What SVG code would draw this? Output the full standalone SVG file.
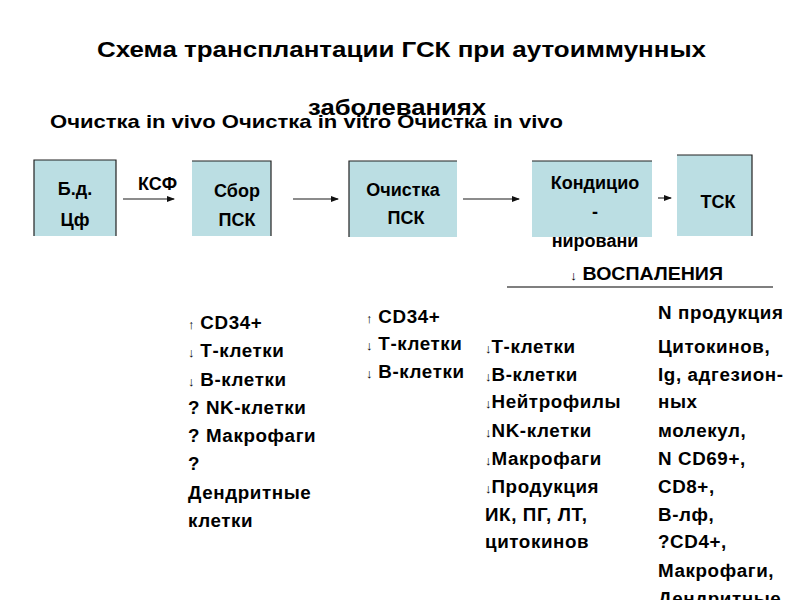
<svg xmlns="http://www.w3.org/2000/svg" width="800" height="600" viewBox="0 0 800 600">
<defs>
<marker id="ah" markerWidth="8" markerHeight="6" refX="7" refY="3" orient="auto" markerUnits="userSpaceOnUse">
<path d="M0,0 L8,3 L0,6 Z" fill="#111"/>
</marker>
<style>
text{font-family:"Liberation Sans",Arial,sans-serif;font-weight:bold;fill:#000}
.t{font-size:22px}
.sub{font-size:19px}
.bx{font-size:18px;text-anchor:middle}
.ls{font-size:18.8px;letter-spacing:0.6px}
.ar{font-weight:normal;font-size:13px;letter-spacing:0}
.box{fill:#bbdee3}
.bd{stroke:#222;stroke-width:1.2;fill:none}
.con{stroke:#666;stroke-width:1.6;fill:none;marker-end:url(#ah)}
</style>
</defs>
<rect width="800" height="600" fill="#fff"/>

<g id="title">
<text class="t" x="97" y="57" textLength="609" lengthAdjust="spacingAndGlyphs">Схема трансплантации ГСК при аутоиммунных</text>
<text class="t" x="308" y="115" textLength="178" lengthAdjust="spacingAndGlyphs">заболеваниях</text>
<text class="sub" x="50" y="128" textLength="513" lengthAdjust="spacingAndGlyphs">Очистка in vivo Очистка in vitro Очистка in vivo</text>
</g>

<g id="connectors">
<line class="con" x1="123" y1="199" x2="174" y2="199"/>
<line class="con" x1="293" y1="199" x2="338" y2="199"/>
<line class="con" x1="463" y1="199" x2="519" y2="199"/>
<line class="con" x1="658" y1="198" x2="671" y2="198"/>
<text x="138" y="190" style="font-size:18px">КСФ</text>
</g>

<g id="node-bd">
<rect class="box" x="34" y="160" width="82" height="76"/>
<path class="bd" d="M34,236 V160 H116 V236"/>
<text class="bx" x="75" y="195">Б.д.</text>
<text class="bx" x="75" y="226">Цф</text>
</g>

<g id="node-sbor">
<rect class="box" x="192" y="161" width="79" height="75"/>
<path class="bd" d="M192,161 H271 V236"/>
<text class="bx" x="237" y="197">Сбор</text>
<text class="bx" x="237" y="226">ПСК</text>
</g>

<g id="node-ochistka">
<rect class="box" x="349" y="161" width="108" height="76"/>
<path class="bd" d="M349,237 V161 H457"/>
<text class="bx" x="403" y="196">Очистка</text>
<text class="bx" x="406" y="224">ПСК</text>
</g>

<g id="node-kond">
<rect class="box" x="532" y="161" width="120" height="76"/>
<path class="bd" d="M532,161 H652"/>
<text class="bx" x="595" y="189">Кондицио</text>
<text class="bx" x="595" y="218">-</text>
<text class="bx" x="595" y="247">нировани</text>
</g>

<g id="node-tsk">
<rect class="box" x="677" y="155" width="75" height="81"/>
<path class="bd" d="M677,155 H752 V236"/>
<text class="bx" x="718" y="208">ТСК</text>
</g>

<g id="inflammation">
<text x="570" y="280" style="font-size:18px" textLength="153" lengthAdjust="spacingAndGlyphs"><tspan class="ar">↓</tspan> ВОСПАЛЕНИЯ</text>
<line x1="507" y1="287" x2="773" y2="287" stroke="#000" stroke-width="1.2"/>
</g>

<g id="list1">
<text class="ls" x="188" y="329"><tspan class="ar">↑</tspan> CD34+</text>
<text class="ls" x="188" y="357"><tspan class="ar">↓</tspan> Т-клетки</text>
<text class="ls" x="188" y="386"><tspan class="ar">↓</tspan> В-клетки</text>
<text class="ls" x="188" y="414">? NK-клетки</text>
<text class="ls" x="188" y="442">? Макрофаги</text>
<text class="ls" x="188" y="470">?</text>
<text class="ls" x="188" y="499">Дендритные</text>
<text class="ls" x="188" y="527">клетки</text>
</g>

<g id="list2">
<text class="ls" x="366" y="323"><tspan class="ar">↑</tspan> CD34+</text>
<text class="ls" x="366" y="350"><tspan class="ar">↓</tspan> Т-клетки</text>
<text class="ls" x="366" y="378"><tspan class="ar">↓</tspan> В-клетки</text>
</g>

<g id="list3">
<text class="ls" x="485" y="353"><tspan class="ar">↓</tspan>Т-клетки</text>
<text class="ls" x="485" y="381"><tspan class="ar">↓</tspan>В-клетки</text>
<text class="ls" x="485" y="408"><tspan class="ar">↓</tspan>Нейтрофилы</text>
<text class="ls" x="485" y="437"><tspan class="ar">↓</tspan>NK-клетки</text>
<text class="ls" x="485" y="465"><tspan class="ar">↓</tspan>Макрофаги</text>
<text class="ls" x="485" y="493"><tspan class="ar">↓</tspan>Продукция</text>
<text class="ls" x="485" y="521">ИК, ПГ, ЛТ,</text>
<text class="ls" x="485" y="548">цитокинов</text>
</g>

<g id="list4">
<text class="ls" x="658" y="319">N продукция</text>
<text class="ls" x="658" y="353">Цитокинов,</text>
<text class="ls" x="658" y="381">Ig, адгезион-</text>
<text class="ls" x="658" y="408">ных</text>
<text class="ls" x="658" y="437">молекул,</text>
<text class="ls" x="658" y="465">N CD69+,</text>
<text class="ls" x="658" y="493">CD8+,</text>
<text class="ls" x="658" y="521">В-лф,</text>
<text class="ls" x="658" y="548">?CD4+,</text>
<text class="ls" x="658" y="577">Макрофаги,</text>
<text class="ls" x="658" y="605">Дендритные</text>
</g>
</svg>
